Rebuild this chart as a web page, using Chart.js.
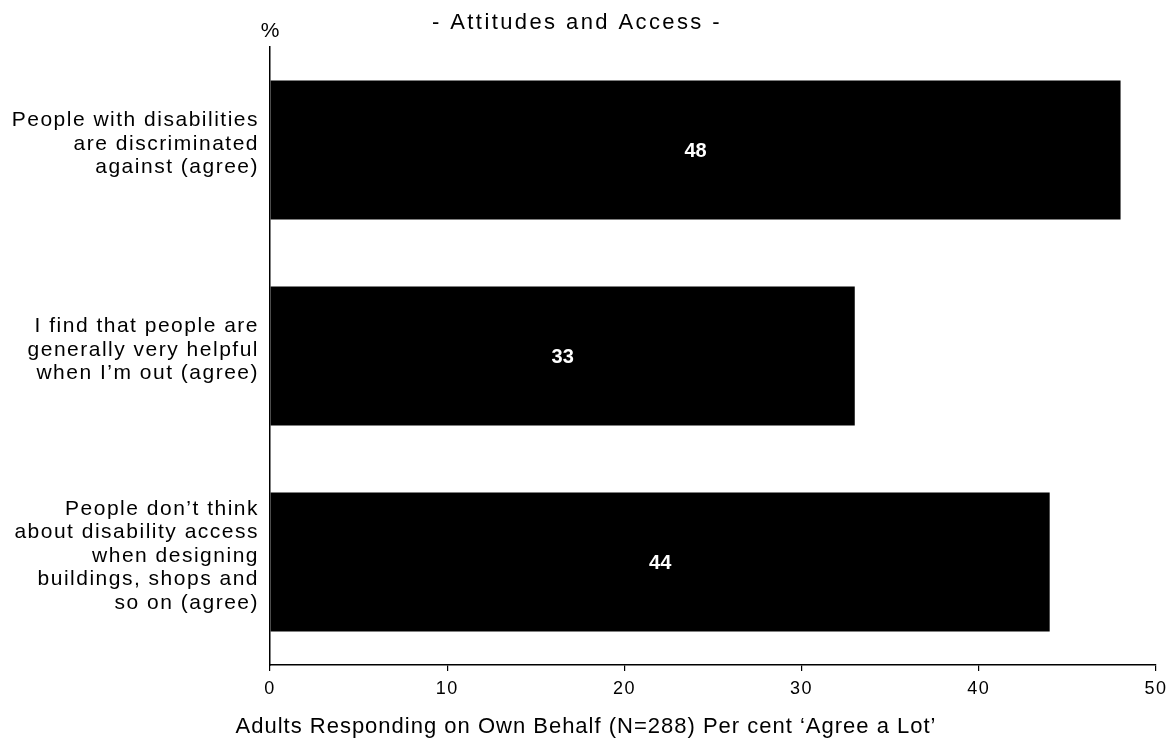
<!DOCTYPE html>
<html>
<head>
<meta charset="utf-8">
<script src="https://cdn.jsdelivr.net/npm/chart.js@4"></script>
<style>
  body { margin: 0; background: #fff; }
  #wrap { width: 1175px; height: 744px; }
</style>
</head>
<body>
<div id="wrap"><canvas id="chart" width="1175" height="744"></canvas></div>
<script>
// categories (multi-line labels) and values
const categories = [
    ["People with disabilities", "are discriminated", "against (agree)"],
    ["I find that people are", "generally very helpful", "when I\u2019m out (agree)"],
    ["People don\u2019t think", "about disability access", "when designing", "buildings, shops and", "so on (agree)"]
];

const values = [48, 33, 44];

const xTicks = [0, 10, 20, 30, 40, 50];

const chartTitle = "- Attitudes and Access -";
const axisTitle = "Adults Responding on Own Behalf (N=288) Per cent \u2018Agree a Lot\u2019";
const unitLabel = "%";

const FONT = "'Liberation Sans', Arial, sans-serif";
const NARROW = "'Liberation Sans Narrow', 'Liberation Sans', Arial, sans-serif";

// wide letter spacing like the original print
const spacingPlugin = {
    id: "spacing",
    beforeUpdate(chart) { chart.ctx.letterSpacing = "1.5px"; },
    beforeDraw(chart) { chart.ctx.letterSpacing = "1.5px"; }
};

// draws the title, the % mark, the x axis caption and the bar values
const textPlugin = {
    id: "texts",
    afterDraw(chart) {
        const { ctx, chartArea } = chart;
        ctx.save();
        ctx.fillStyle = "#000";
        ctx.textBaseline = "middle";
        ctx.textAlign = "center";

        ctx.font = "22px " + FONT;
        ctx.letterSpacing = "2.4px";
        ctx.fillText(chartTitle, 577, 23);

        ctx.letterSpacing = "1px";
        ctx.fillText(axisTitle, 586, 727);

        ctx.font = "21px " + FONT;
        ctx.letterSpacing = "0px";
        ctx.fillText(unitLabel, chartArea.left, 31);

        const meta = chart.getDatasetMeta(0);
        ctx.fillStyle = "#fff";
        ctx.font = "bold 20px " + FONT;
        meta.data.forEach((bar, i) => {
            const x = (bar.base + bar.x) / 2;
            ctx.fillText(String(values[i]), x, bar.y + 1);
        });
        ctx.restore();
    }
};

new Chart(document.getElementById("chart"), {
    type: "bar",
    data: {
        labels: categories,
        datasets: [
            {
                data: values,
                backgroundColor: "#000",
                borderWidth: 0,
                categoryPercentage: 1,
                barPercentage: 0.675
            }
        ]
    },
    options: {
        indexAxis: "y",
        responsive: false,
        animation: false,
        layout: {
            padding: { top: 47, right: 19, left: 0, bottom: 0 }
        },
        plugins: {
            legend: { display: false },
            tooltip: { enabled: false }
        },
        scales: {
            x: {
                min: 0,
                max: 50,
                afterFit(scale) {
                    scale.height = 79;
                    scale.paddingLeft = 0;
                    scale.paddingRight = 0;
                },
                afterBuildTicks(scale) {
                    scale.ticks = xTicks.map(v => ({ value: v }));
                },
                grid: {
                    display: true,
                    drawOnChartArea: false,
                    drawTicks: true,
                    tickLength: 6,
                    color: "#000",
                    lineWidth: 1.2
                },
                border: { display: true, color: "#000", width: 1.5 },
                ticks: {
                    color: "#000",
                    padding: 7,
                    maxRotation: 0,
                    font: { family: NARROW, size: 18 }
                }
            },
            y: {
                afterFit(scale) {
                    scale.width = 270;
                    scale.paddingTop = 0;
                    scale.paddingBottom = 0;
                },
                grid: { display: false },
                border: { display: true, color: "#000", width: 1.5 },
                ticks: {
                    color: "#000",
                    padding: 3,
                    labelOffset: -6,
                    font: { family: FONT, size: 21, lineHeight: 1.12 }
                }
            }
        }
    },
    plugins: [spacingPlugin, textPlugin]
});
</script>
</body>
</html>
